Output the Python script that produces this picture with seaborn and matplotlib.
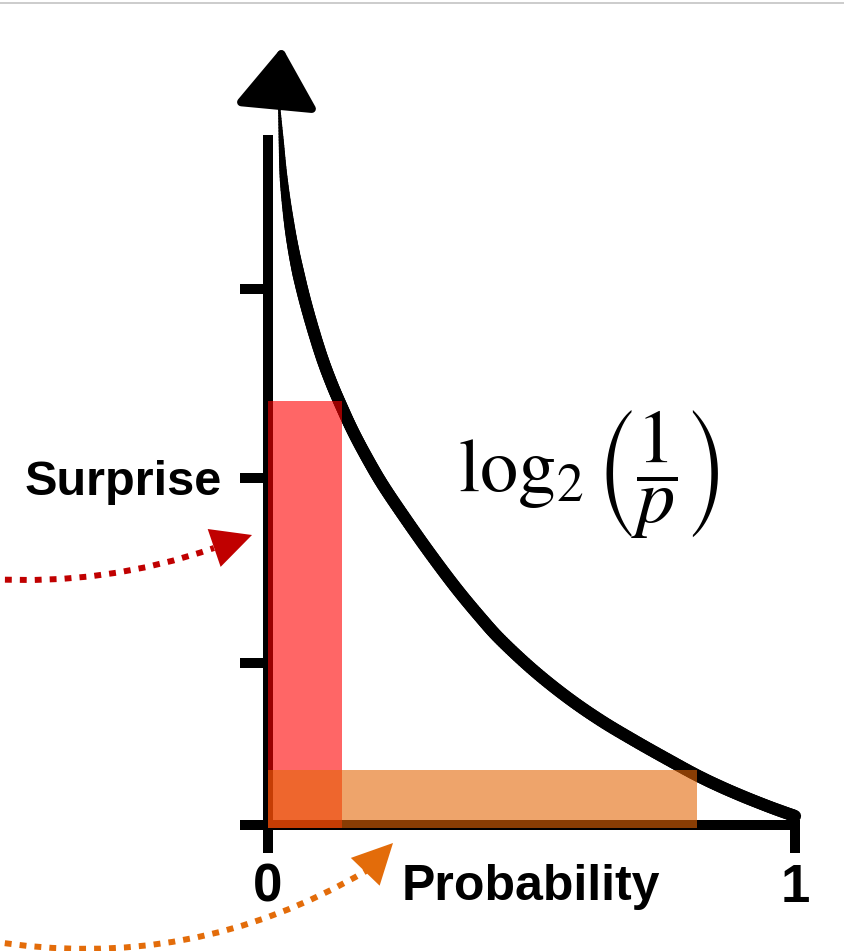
import numpy as np
import pandas as pd
import matplotlib
matplotlib.use('Agg')
import matplotlib.pyplot as plt
import seaborn as sns
from matplotlib.patches import FancyArrowPatch
from matplotlib.collections import LineCollection
from matplotlib.lines import Line2D

# ---------------- data ----------------
prob = [0.021, 0.025, 0.030, 0.040, 0.051, 0.065, 0.082, 0.102, 0.121, 0.139,
        0.161, 0.188, 0.218, 0.260, 0.307, 0.357, 0.404, 0.442, 0.503, 0.567,
        0.630, 0.693, 0.757, 0.820, 0.882, 0.947, 1.000]
surprise = [4.045, 3.848, 3.624, 3.382, 3.191, 3.006, 2.820, 2.629, 2.478, 2.354,
            2.213, 2.062, 1.910, 1.725, 1.528, 1.331, 1.163, 1.039, 0.871, 0.719,
            0.590, 0.478, 0.371, 0.270, 0.185, 0.107, 0.050]
bar_names = ['rare', 'common']
bar_prob = [0.140, 0.814]
bar_surprise = [2.38, 0.31]
bar_colors = ['#FF0000', '#E46708']
ytick_pos = [0, 0.91, 1.95, 3.01]
ytick_labels = ['', '', 'Surprise', '']
xtick_pos = [0, 1]
xtick_labels = ['0', '1']
formula = r'$\log_2\left(\dfrac{1}{p}\right)$'

# ---------------- style ----------------
sns.set_theme(style='white')
plt.rcParams['font.family'] = ['Liberation Sans', 'DejaVu Sans']
plt.rcParams['mathtext.fontset'] = 'stix'

W, H = 845, 951
fig = plt.figure(figsize=(W / 100, H / 100), dpi=100)
fig.patch.set_facecolor('white')

Y0, UNIT, X0, X1, YT = 825, 178, 268, 795, 40
ax = fig.add_axes([X0 / W, (H - Y0) / H, (X1 - X0) / W, (Y0 - YT) / H])
ax.set_xlim(0, 1)
ax.set_ylim(0, (Y0 - YT) / UNIT)
ax.patch.set_alpha(0)


def fp(px, py):
    return (px / W, 1 - py / H)


def smooth_polyline(xs, ys, steps=14):
    """Catmull-Rom spline through the read points (rendering only)."""
    pts = np.column_stack([xs, ys])
    ext = np.vstack([pts[0], pts, pts[-1]])
    out = [pts[0]]
    t = np.linspace(0, 1, steps)[1:, None]
    for i in range(1, len(ext) - 2):
        p0, p1, p2, p3 = ext[i - 1], ext[i], ext[i + 1], ext[i + 2]
        c1 = p1 + (p2 - p0) / 6.0
        c2 = p2 - (p3 - p1) / 6.0
        seg = ((1 - t) ** 3) * p1 + 3 * ((1 - t) ** 2) * t * c1 + 3 * (1 - t) * t ** 2 * c2 + t ** 3 * p2
        out.extend(seg)
    return np.array(out)


# the curve, tapering to a thin tip at the top
curve = smooth_polyline(prob, surprise)
segs = np.stack([curve[:-1], curve[1:]], axis=1)
mid_s = (curve[:-1, 1] + curve[1:, 1]) / 2
widths = np.interp(mid_s, [3.1, 3.38, 3.62, 3.85, 4.05], [8.8, 7.4, 5.8, 3.6, 1.4])
ax.add_collection(LineCollection(segs, linewidths=widths, colors='black',
                                 capstyle='round', joinstyle='round',
                                 zorder=3, clip_on=False))

# bars
for name, bp, bs, bc in zip(bar_names, bar_prob, bar_surprise, bar_colors):
    ax.bar(0, bs + 0.017, width=bp, bottom=-0.017, align='edge', color=bc, alpha=0.6,
           linewidth=0, zorder=5, clip_on=False)

# spines / ticks
sns.despine(ax=ax, top=True, right=True)
for s in ['left', 'bottom']:
    ax.spines[s].set_linewidth(7.2)
    ax.spines[s].set_color('black')
    ax.spines[s].set_capstyle('projecting')
ax.spines['left'].set_bounds(0, (Y0 - 140) / UNIT)
ax.spines['bottom'].set_bounds(0, 1)

ax.set_yticks(ytick_pos, ytick_labels)
ax.set_xticks(xtick_pos, xtick_labels)
ax.tick_params(axis='both', direction='out', length=20, width=7.2, color='black',
               left=True, bottom=True, labelcolor='black')
ax.tick_params(axis='y', pad=13, labelsize=35)
ax.tick_params(axis='x', pad=7, labelsize=38)
for lbl in ax.get_xticklabels() + ax.get_yticklabels():
    lbl.set_fontweight('bold')
ax.set_xlabel('')
ax.set_ylabel('')

fig.text(*fp(531, 900), 'Probability', ha='center', va='baseline', fontsize=36,
         fontweight='bold', color='black')
fig.text(*fp(458, 492), formula, ha='left', va='baseline', fontsize=55, color='black')

# big arrowhead on top of the axis
fig.add_artist(FancyArrowPatch(fp(277, 100), fp(282, 47),
                               arrowstyle='-|>,head_length=37,head_width=25.5',
                               mutation_scale=1, lw=6, color='black',
                               joinstyle='round', capstyle='round',
                               shrinkA=0, shrinkB=0, transform=fig.transFigure, zorder=4))

# dotted pointer arrows
for start, end, tip, rad, col in [((-10, 579), (214, 548), (252, 535), 0.1, '#C00000'),
                                   ((-10, 941), (366, 871), (393, 843), 0.18, '#E36C0A')]:
    fig.add_artist(FancyArrowPatch(fp(*start), fp(*end), connectionstyle=f'arc3,rad={rad}',
                                   arrowstyle='-', color=col, lw=4.3,
                                   linestyle=(0, (1.15, 1.35)), capstyle='butt',
                                   shrinkA=0, shrinkB=0, transform=fig.transFigure))
    fig.add_artist(FancyArrowPatch(fp(*end), fp(*tip),
                                   arrowstyle='-|>,head_length=28.8,head_width=14.4',
                                   mutation_scale=1, lw=0, color=col,
                                   shrinkA=0, shrinkB=0, transform=fig.transFigure))

# thin grey rule at the very top
fig.add_artist(Line2D([0, 1], [1 - 2.5 / H] * 2, transform=fig.transFigure,
                      color='#c4c4c4', lw=1.2))

fig.savefig('out.png', dpi=100)
